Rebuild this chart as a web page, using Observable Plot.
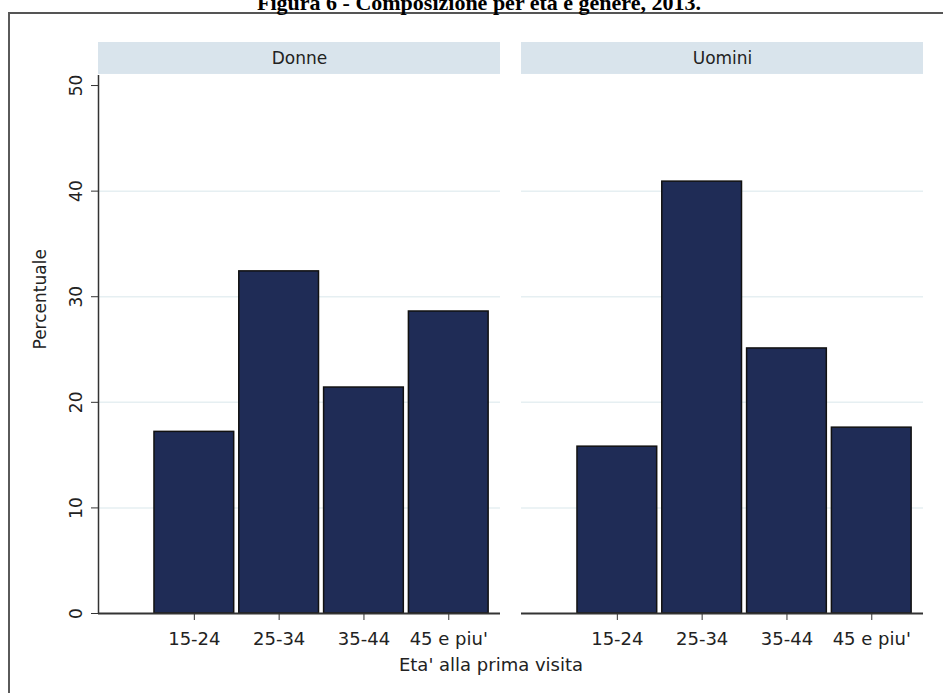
<!DOCTYPE html>
<html>
<head>
<meta charset="utf-8">
<script src="https://cdn.jsdelivr.net/npm/d3@7"></script>
<script src="https://cdn.jsdelivr.net/npm/@observablehq/plot@0.6"></script>
<style>
  body { margin: 0; background: #fff; }
  #wrap { position: relative; width: 943px; height: 693px; overflow: hidden; background: #fff; font-family: "DejaVu Sans", sans-serif; }
  #chart { position: absolute; left: 0; top: 0; }
  #frame { position: absolute; left: 8px; top: 12px; width: 940px; height: 690px; border-top: 2px solid #555; border-left: 2px solid #5a5a5a; box-sizing: border-box; }
  #title { position: absolute; left: 0; top: -8px; width: 943px; padding-left: 15px; box-sizing: border-box; text-align: center; font: bold 22px/22px "Liberation Serif", "Times New Roman", serif; color: #000; white-space: nowrap; }
  #xlabel { position: absolute; left: 191px; top: 656px; width: 600px; text-align: center; font: 18px/18px "DejaVu Sans", sans-serif; color: #222; }
</style>
</head>
<body>
<div id="wrap">
  <div id="chart"></div>
  <div id="frame"></div>
  <div id="title">Figura 6 - Composizione per età e genere, 2013.</div>
  <div id="xlabel">Eta' alla prima visita</div>
</div>
<script>
const ages = ["15-24", "25-34", "35-44", "45 e piu'"];
const genders = ["Donne", "Uomini"];
const donne = [17.2, 32.4, 21.4, 28.6];
const uomini = [15.8, 40.9, 25.1, 17.6];
const yTicks = [0, 10, 20, 30, 40, 50];
const gridTicks = [10, 20, 30, 40];
const yLabel = "Percentuale";

const data = [];
ages.forEach((a, i) => {
  data.push({gender: "Donne", age: a, i: i + 1, value: donne[i]});
  data.push({gender: "Uomini", age: a, i: i + 1, value: uomini[i]});
});

const half = 0.47;
const xDomain = [-0.13, 4.61];
const yMax = 50.95;

const chart = Plot.plot({
  width: 943,
  height: 693,
  marginLeft: 97,
  marginRight: 19,
  marginTop: 75,
  marginBottom: 80,
  style: {fontFamily: "DejaVu Sans, sans-serif", fontSize: "17px", color: "#222", background: "transparent"},
  fx: {domain: genders, axis: null, paddingInner: 0.0495, paddingOuter: 0},
  x: {type: "linear", domain: xDomain},
  y: {domain: [0, yMax]},
  marks: [
    Plot.rect(genders.map(g => ({gender: g})), {
      fx: "gender", y1: () => yMax + 0.1, y2: () => yMax + 3.125, fill: "#d9e4ec"
    }),
    Plot.text(genders.map(g => ({gender: g})), {
      fx: "gender", text: "gender", y: () => yMax + 1.6, fontSize: 17, fill: "#222"
    }),
    Plot.ruleY(gridTicks, {stroke: "#e6eff2", strokeWidth: 1.5}),
    Plot.rectY(data, {
      fx: "gender", x1: d => d.i - half, x2: d => d.i + half, y: "value",
      fill: "#1f2c56", stroke: "#111", strokeWidth: 1.5
    }),
    Plot.ruleY([0], {stroke: "#333", strokeWidth: 2}),
    Plot.ruleX([{gender: "Donne"}], {
      fx: "gender", x: () => xDomain[0], y1: () => 0, y2: () => yMax, stroke: "#333", strokeWidth: 1.5
    }),
    Plot.axisY({ticks: yTicks, tickSize: 7, tickPadding: 10, tickRotate: -90, fontSize: 17, label: null, stroke: "#333"}),
    Plot.axisX({ticks: [1, 2, 3, 4], tickFormat: i => ages[i - 1], tickSize: 7, tickPadding: 12, fontSize: 18, label: null, stroke: "#333"}),
    Plot.text([{gender: "Donne"}], {
      fx: "gender", text: () => yLabel, frameAnchor: "left", rotate: -90, dx: -58, dy: 5, fontSize: 17, fill: "#222"
    })
  ]
});
document.getElementById("chart").appendChild(chart);
</script>
</body>
</html>
